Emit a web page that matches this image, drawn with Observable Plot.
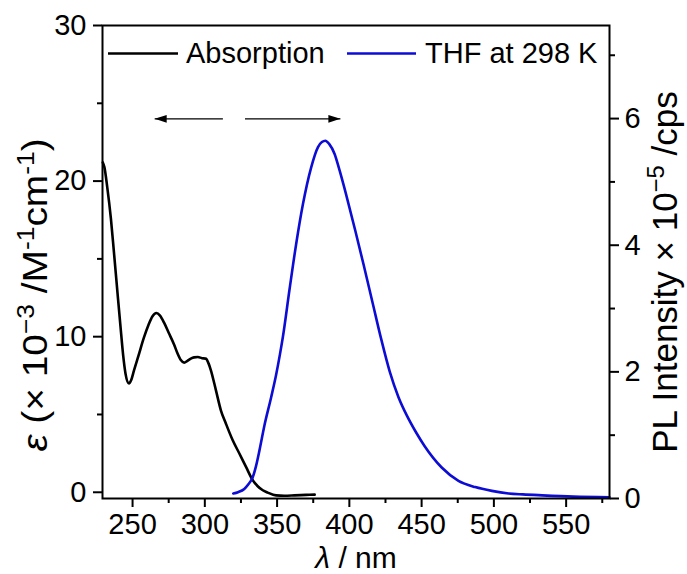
<!DOCTYPE html>
<html><head><meta charset="utf-8">
<script src="https://cdn.jsdelivr.net/npm/d3@7"></script>
<script src="https://cdn.jsdelivr.net/npm/@observablehq/plot@0.6"></script>
<style>body{margin:0;background:#fff} svg{display:block}</style>
</head><body><div id="chart"></div>
<script>
// ---- data ----
const absWavelength = [229.4, 230.5, 232.5, 235, 237.0, 239.5, 241.7, 243.5, 245.1, 247.5, 249, 251.0, 254, 257.9, 261, 263.7, 266.5, 269, 271.8, 275, 278.7, 281, 283.4, 285.7, 288, 290.3, 292.6, 295.2, 298, 300.7, 302.5, 304.2, 307.7, 311.1, 314.6, 319.3, 323.9, 328.5, 333.2, 336.6, 340.1, 343.5, 349.3, 355, 362, 370, 376];
const absEpsilon    = [21.2, 20.9, 19.6, 17.6, 15.55, 12.9, 10.6, 8.8, 7.64, 7.0, 7.2, 7.84, 8.75, 9.95, 10.75, 11.3, 11.52, 11.35, 10.9, 10.25, 9.5, 8.95, 8.5, 8.33, 8.45, 8.59, 8.67, 8.69, 8.62, 8.59, 8.3, 7.84, 6.55, 5.27, 4.41, 3.34, 2.49, 1.63, 0.77, 0.39, 0.13, -0.02, -0.2, -0.22, -0.2, -0.17, -0.15];
const plWavelength  = [319.7, 323, 327.3, 330, 333.2, 335.5, 337.8, 341.2, 345.9, 349.3, 352, 354.0, 358.6, 363.2, 367.9, 373.6, 378.3, 381, 383.4, 386, 389.8, 393, 398, 404, 410, 416, 422, 428, 434, 440, 446, 452, 463.9, 475.5, 487.1, 498.6, 510.2, 520, 533.4, 555, 580];
const plIntensity   = [0.08, 0.1, 0.15, 0.22, 0.34, 0.52, 0.76, 1.15, 1.6, 1.95, 2.28, 2.55, 3.3, 4.02, 4.65, 5.23, 5.55, 5.63, 5.65, 5.6, 5.44, 5.2, 4.78, 4.24, 3.68, 3.1, 2.52, 2.0, 1.6, 1.3, 1.05, 0.83, 0.49, 0.28, 0.18, 0.12, 0.08, 0.065, 0.05, 0.03, 0.02];

const seriesNames  = ["Absorption", "THF at 298 K"];
const seriesColors = ["#000000", "#0c0cd4"];

const xMajorTicks = [250, 300, 350, 400, 450, 500, 550];
const xMinorTicks = [275, 325, 375, 425, 475, 525, 575];
const leftMajorTicks = [0, 10, 20, 30];
const leftMinorTicks = [5, 15, 25];
const rightMajorTicks = [0, 2, 4, 6];
const rightMinorTicks = [1, 3, 5, 7];

// annotation arrows (wavelength from -> to, at epsilon level)
const arrowFrom  = [312.5, 327.8];
const arrowTo    = [265.3, 393.8];
const arrowLevel = [24, 24];
const arrowAngle = [-90, 90];

// ---- scales ----
const xDomain = [229.2, 580];
const leftDomain = [-0.4, 30];
const rightMax = 7.47;
const toLeft = v => leftDomain[0] + v / rightMax * (leftDomain[1] - leftDomain[0]);
const fromLeft = y => (y - leftDomain[0]) / (leftDomain[1] - leftDomain[0]) * rightMax;

const absData = absWavelength.map((x, i) => ({x, y: absEpsilon[i]}));
const plData = plWavelength.map((x, i) => ({x, y: toLeft(plIntensity[i])}));
const arrows = arrowFrom.map((x1, i) => ({x1, x2: arrowTo[i], y: arrowLevel[i], a: arrowAngle[i]}));

const headSymbol = {draw(ctx) { ctx.moveTo(0, 0); ctx.lineTo(3.8, 12); ctx.lineTo(-3.8, 12); ctx.closePath(); }};

const FONT = "'Liberation Sans', Arial, Helvetica, sans-serif";
const TICKFS = 29;

const chart = Plot.plot({
  width: 687, height: 574,
  marginLeft: 102, marginRight: 78, marginTop: 25, marginBottom: 76,
  x: {domain: xDomain},
  y: {domain: leftDomain},
  style: {fontFamily: FONT, color: "#000", background: "#fff", overflow: "visible"},
  marks: [
    Plot.axisX({ticks: xMajorTicks, tickSize: 9, tickPadding: 6, fontSize: TICKFS, strokeWidth: 2, label: null, tickFormat: d => String(d)}),
    Plot.axisX({ticks: xMinorTicks, tickSize: 5, strokeWidth: 2, fill: "none", label: null}),
    Plot.axisY({ticks: leftMajorTicks, tickSize: 9, tickPadding: 7, fontSize: TICKFS, strokeWidth: 2, label: null, tickFormat: d => String(d)}),
    Plot.axisY({ticks: leftMinorTicks, tickSize: 5, strokeWidth: 2, fill: "none", label: null}),
    Plot.axisY({ticks: rightMajorTicks.map(toLeft), anchor: "right", tickSize: 9, tickPadding: 6, fontSize: TICKFS, strokeWidth: 2, label: null, tickFormat: d => String(Math.round(fromLeft(d)))}),
    Plot.axisY({ticks: rightMinorTicks.map(toLeft), anchor: "right", tickSize: 5, strokeWidth: 2, fill: "none", label: null}),
    Plot.line(absData, {x: "x", y: "y", stroke: seriesColors[0], strokeWidth: 2.6, curve: "monotone-x"}),
    Plot.line(plData, {x: "x", y: "y", stroke: seriesColors[1], strokeWidth: 2.6, curve: "monotone-x"}),
    Plot.link(arrows, {x1: "x1", x2: "x2", y1: "y", y2: "y", stroke: "#000", strokeWidth: 1.3}),
    Plot.dot(arrows, {x: "x2", y: "y", symbol: headSymbol, rotate: "a", fill: "#000", stroke: "none"}),
    Plot.frame({strokeWidth: 2})
  ]
});
document.getElementById("chart").appendChild(chart);

// ---- titles and legend ----
const svg = d3.select(chart);
function addRich(g, parts, fs) {
  const supDy = fs * 0.38;
  const t = g.append("text").attr("font-family", FONT).attr("font-size", fs).attr("fill", "#000");
  let raised = false;
  for (const p of parts) {
    const ts = t.append("tspan").text(p.t);
    if (p.it) ts.attr("font-style", "italic");
    if (p.sup) { ts.attr("font-size", fs * 0.68).attr("dy", -supDy); raised = true; }
    else if (raised) { ts.attr("dy", supDy); raised = false; }
  }
  return t;
}

// x title
addRich(svg.append("g").attr("transform", "translate(356,567.5)"),
  [{t: "λ", it: true}, {t: " / nm"}], 30).attr("text-anchor", "middle");

// left title
addRich(svg.append("g").attr("transform", "translate(47,295) rotate(-90) scale(1.11,1)"),
  [{t: "ε", it: true}, {t: " (× 10"}, {t: "−3", sup: true}, {t: " /M"}, {t: "-1", sup: true}, {t: "cm"}, {t: "-1", sup: true}, {t: ")"}], 35)
  .attr("text-anchor", "middle");

// right title
addRich(svg.append("g").attr("transform", "translate(677,272) rotate(-90)"),
  [{t: "PL Intensity × 10"}, {t: "−5", sup: true}, {t: " /cps"}], 35)
  .attr("text-anchor", "middle");

// legend
const legX = [[108, 178, 186], [347, 416, 425]];
seriesNames.forEach((name, i) => {
  svg.append("line").attr("x1", legX[i][0]).attr("x2", legX[i][1]).attr("y1", 53.5).attr("y2", 53.5)
    .attr("stroke", seriesColors[i]).attr("stroke-width", 2.6);
  svg.append("text").attr("x", legX[i][2]).attr("y", 63).attr("font-family", FONT).attr("font-size", 29)
    .attr("text-anchor", "start").attr("fill", "#000").text(name);
});
</script>
</body></html>
